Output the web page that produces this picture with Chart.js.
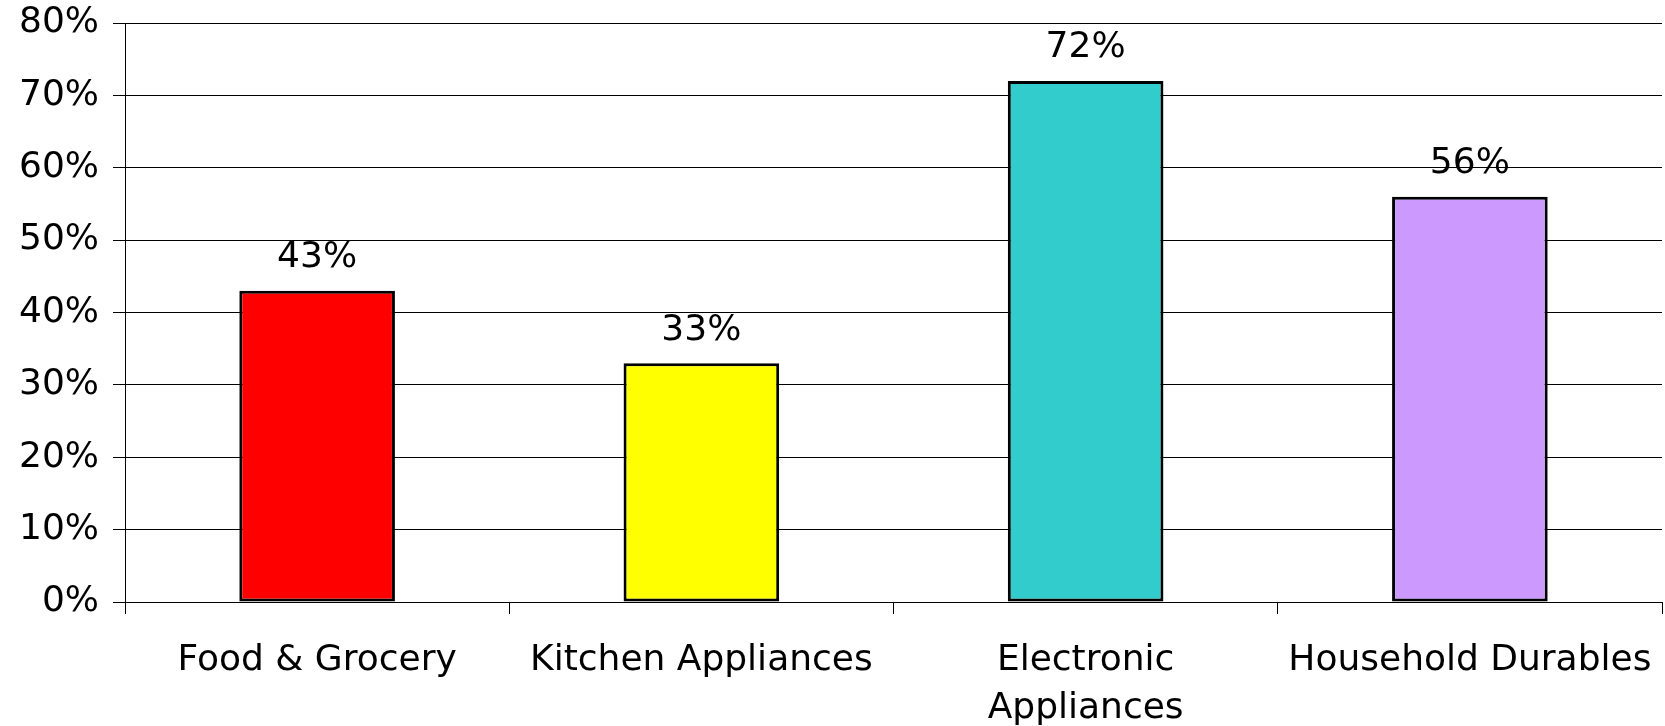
<!DOCTYPE html>
<html>
<head>
<meta charset="utf-8">
<script src="https://cdn.jsdelivr.net/npm/chart.js@4"></script>
<style>
    html, body { margin: 0; padding: 0; background: #fff; }
    #wrap { width: 1665px; height: 726px; }
</style>
</head>
<body>
<div id="wrap"><canvas id="shareChart"></canvas></div>
<script>
// categories and values (percent)
const categories = ['Food & Grocery', 'Kitchen Appliances', ['Electronic', 'Appliances'], 'Household Durables'];
const shares = [43, 33, 72, 56];
const barColors = ['#FF0000', '#FFFF00', '#33CCCC', '#CC99FF'];
const yTicks = [0, 10, 20, 30, 40, 50, 60, 70, 80];

const FONT = 'DejaVu Sans';

// writes the value above each bar
const valueLabels = {
    id: 'valueLabels',
    afterDatasetsDraw(chart) {
        const ctx = chart.ctx;
        const meta = chart.getDatasetMeta(0);
        ctx.save();
        ctx.font = '36px "' + FONT + '"';
        ctx.fillStyle = '#000';
        ctx.textAlign = 'center';
        ctx.textBaseline = 'middle';
        meta.data.forEach(function(bar, i) {
            ctx.fillText(shares[i] + '%', bar.x, bar.y - 33);
        });
        ctx.restore();
    }
};

window.onload = function() {
    const ctx = document.getElementById('shareChart').getContext('2d');

    new Chart(ctx, {
        type: 'bar',
        data: {
            labels: categories,
            datasets: [{
                data: shares,
                backgroundColor: barColors,
                borderColor: '#000',
                borderWidth: 3,
                borderSkipped: false,
                categoryPercentage: 1,
                barPercentage: 0.405
            }]
        },
        options: {
            responsive: true,
            maintainAspectRatio: false,
            animation: false,
            layout: { padding: { top: 0, right: 3, left: 0, bottom: 0 } },
            plugins: {
                legend: { display: false },
                tooltip: { enabled: false }
            },
            scales: {
                x: {
                    grid: {
                        offset: true,
                        drawOnChartArea: false,
                        drawTicks: true,
                        tickLength: 12,
                        color: '#000',
                        lineWidth: 1
                    },
                    border: { display: true, color: '#000', width: 1 },
                    ticks: {
                        color: '#000',
                        font: { family: FONT, size: 36, lineHeight: 1.35 },
                        padding: 22,
                        maxRotation: 0,
                        autoSkip: false
                    },
                    afterFit: function(scale) {
                        scale.height = 124;
                        scale.paddingLeft = 0;
                        scale.paddingRight = 0;
                    }
                },
                y: {
                    min: 0,
                    max: 80,
                    afterBuildTicks: function(scale) {
                        scale.ticks = yTicks.map(function(v) { return { value: v }; });
                    },
                    grid: {
                        color: '#000',
                        lineWidth: 1,
                        tickLength: 12
                    },
                    border: { display: true, color: '#000', width: 1 },
                    ticks: {
                        color: '#000',
                        font: { family: FONT, size: 36 },
                        padding: 14,
                        callback: function(v) { return v + '%'; }
                    },
                    afterFit: function(scale) {
                        scale.width = 125;
                        scale.paddingTop = 23;
                        scale.paddingBottom = 0;
                    }
                }
            }
        },
        plugins: [valueLabels]
    });
};
</script>
</body>
</html>
